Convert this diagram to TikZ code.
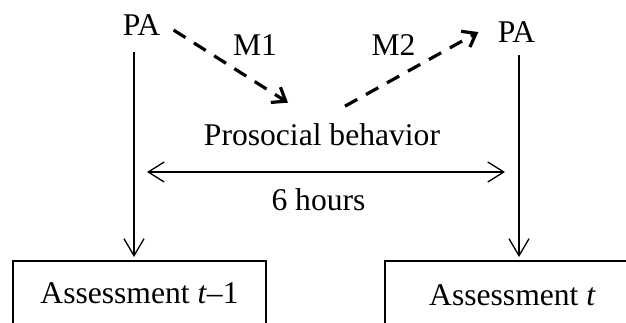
\documentclass[tikz,border=0pt]{standalone}
\usepackage{fontspec}
\setmainfont{Liberation Serif}
\usetikzlibrary{arrows.meta}

\begin{document}
\begin{tikzpicture}[x=0.5pt,y=-0.5pt,
    every node/.style={font=\fontsize{15.8}{19}\selectfont},
    lbl/.style={inner sep=0pt,anchor=base},
    assbox/.style={draw,line width=0.75pt,anchor=north,inner sep=0pt},
    downarrow/.style={line width=0.65pt,-{Straight Barb[length=8.5pt,width=10pt]}},
    spanarrow/.style={line width=0.65pt,
      {Straight Barb[length=8pt,width=10pt]}-{Straight Barb[length=8pt,width=10pt]}},
    medarrow/.style={line width=1.6pt,dash pattern=on 7pt off 5pt,
      -{Straight Barb[length=6pt,width=9pt]}}]
    \useasboundingbox (0,0) rectangle (626,322);
    \clip (0,0) rectangle (626,322);

    \node[lbl] (paL) at (141.5,35) {PA};
    \node[lbl] (paR) at (516.5,42) {PA};
    \node[lbl] (pro) at (322,145) {Prosocial behavior};
    \node[lbl] (m1) at (255,55) {M1};
    \node[lbl] (m2) at (393.5,55) {M2};
    \node[lbl] (hrs) at (318.5,210) {6 hours};

    % boxes run off the page at the bottom and right
    \node[assbox,minimum width=126.5pt,minimum height=32pt] (assL) at (139.5,260)
      {Assessment \textit{t}–1};
    \node[assbox,minimum width=127.5pt,minimum height=34pt] (assR) at (512.5,260)
      {Assessment \textit{t}};

    \draw[medarrow] ([shift={(13,5.5)}]paL.east) -- ([shift={(-34,-20)}]pro.north);
    \draw[medarrow] ([shift={(23,-16.5)}]pro.north) -- ([shift={(-19,0.5)}]paR.west);

    \draw[downarrow] ([shift={(-7.5,17)}]paL.south) -- ([shift={(-5.5,-3)}]assL.north);
    \draw[downarrow] ([shift={(2.5,13)}]paR.south) -- ([shift={(6.5,-3)}]assR.north);

    \coordinate (tL) at (147,172);
    \coordinate (tR) at (505,172);
    \draw[spanarrow] (tL) -- (tR);
  \end{tikzpicture}
\end{document}
